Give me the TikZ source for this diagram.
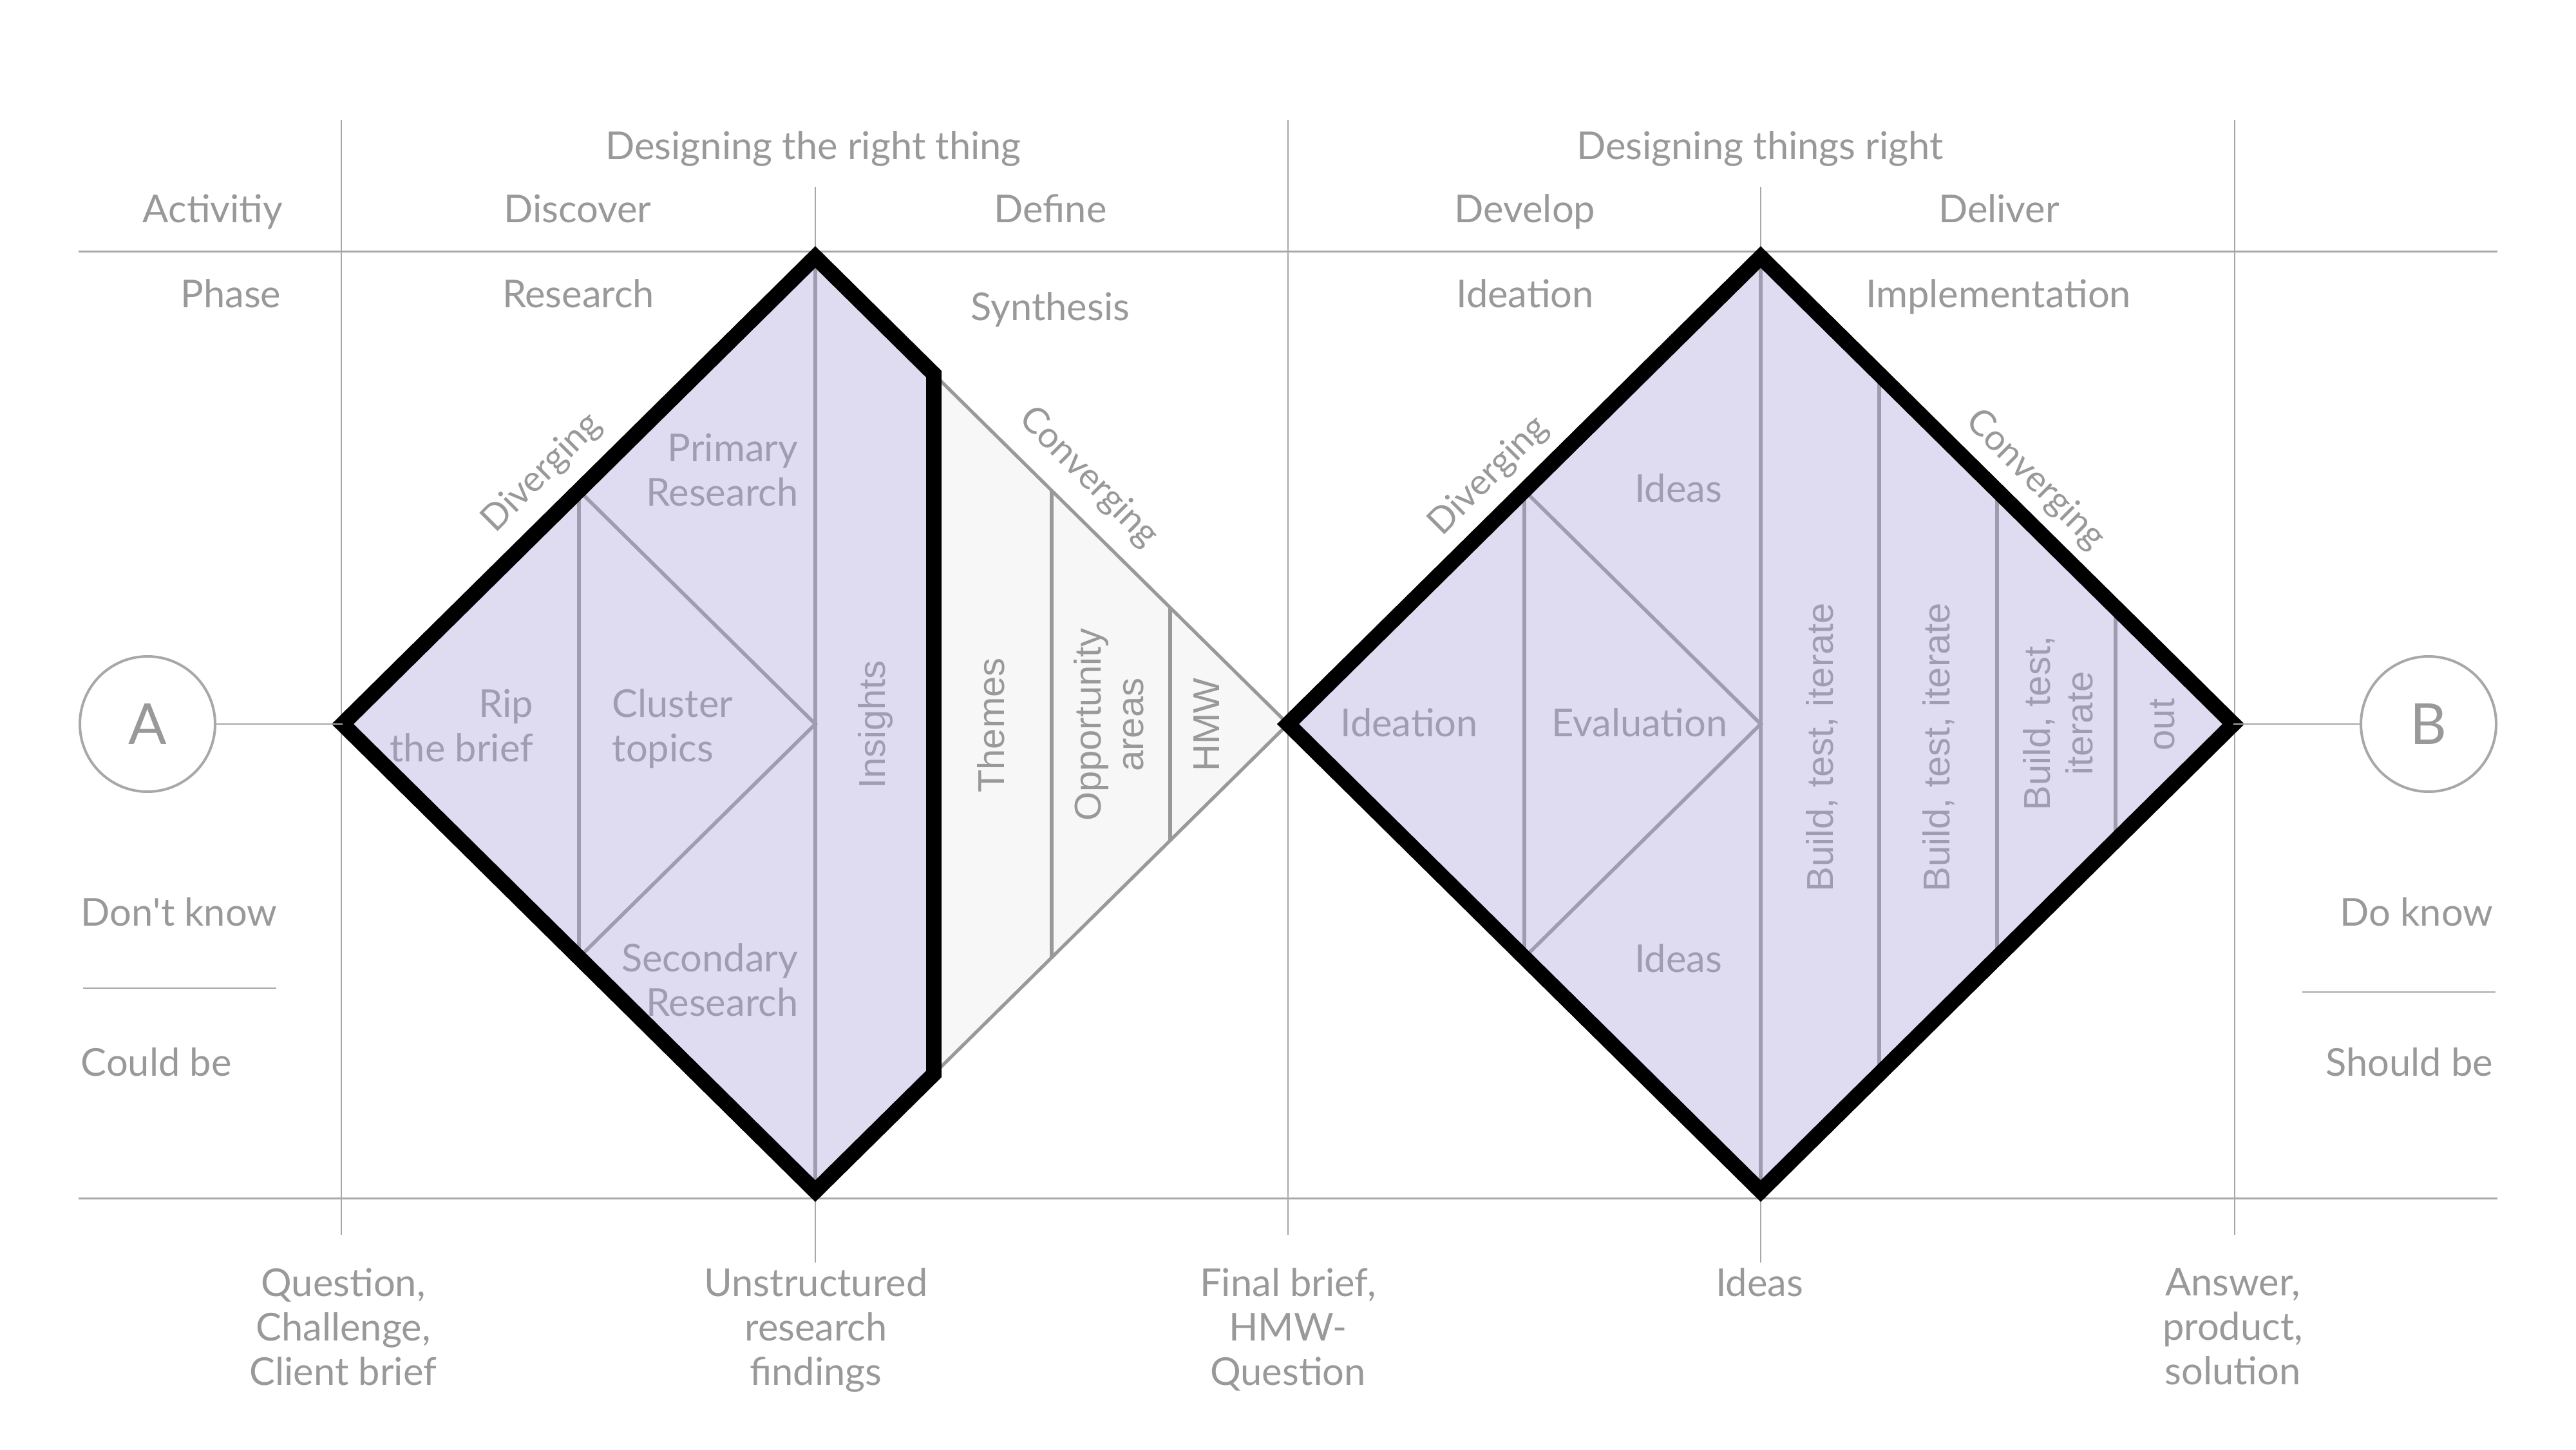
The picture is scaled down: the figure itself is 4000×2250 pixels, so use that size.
\documentclass[tikz,border=0pt]{standalone}
\usepackage{fontspec}
\setmainfont{Lato}
\newfontfamily\rotfont{Liberation Sans}
\definecolor{txt}{HTML}{999999}
\definecolor{ptxt}{HTML}{A19DB1}
\definecolor{purp}{HTML}{DFDCF1}
\definecolor{pline}{HTML}{A09CB0}
\definecolor{gfill}{HTML}{F7F7F7}
\definecolor{gline}{HTML}{999999}
\definecolor{gridc}{HTML}{A8A8A8}
\begin{document}
\begin{tikzpicture}[x=0.25pt,y=-0.25pt,
  gridline/.style={draw=gridc, line width=0.4pt},
  mainline/.style={draw=gridc, line width=0.75pt},
  innerline/.style={draw=pline, line width=1.4pt},
  grayline/.style={draw=gline, line width=1.3pt},
  outline/.style={draw=black, line width=6pt, line join=miter},
  lbl/.style={text=txt, font=\fontsize{14.9}{17.2}\selectfont, inner sep=0pt},
  plbl/.style={text=ptxt, font=\fontsize{14.9}{17.2}\selectfont, inner sep=0pt},
  dlbl/.style={text=txt, font=\fontsize{14}{16}\selectfont, inner sep=0pt},
  rlbl/.style={text=txt, font=\rotfont\fontsize{14.5}{16.5}\selectfont, inner sep=0pt, rotate=90, anchor=base, align=center},
  endcircle/.style={circle, draw=gridc, line width=1pt, minimum size=52.5pt, inner sep=0pt, text=txt, font=\fontsize{22}{24}\selectfont}
]
\useasboundingbox[fill=white] (0,0) rectangle (4000,2250);

% grid
\draw[gridline] (530,186) -- (530,1917);
\draw[gridline] (2000,186) -- (2000,1917);
\draw[gridline] (3470,186) -- (3470,1917);
\draw[gridline] (1266,290) -- (1266,1960);
\draw[gridline] (2734,290) -- (2734,1960);
\draw[mainline] (122,390) -- (3878,390);
\draw[mainline] (122,1860) -- (3878,1860);
\draw[gridline] (129,1534) -- (429,1534);
\draw[gridline] (3575,1540) -- (3875,1540);

% diamond 1 coordinates
\coordinate (d1L) at (532,1124);
\coordinate (d1T) at (1266,399);
\coordinate (d1B) at (1266,1849);
\coordinate (d1R) at (2000,1124);
\coordinate (d1cT) at (1450,580.7);
\coordinate (d1cB) at (1450,1667.3);

% grey converging part
\path[fill=gfill] (d1cT) -- (d1R) -- (d1cB) -- cycle;
\draw[grayline] (d1cT) -- (d1R) -- (d1cB);
\draw[grayline] (1633,761.5) -- (1633,1486.5);
\draw[grayline] (1817,943.3) -- (1817,1304.7);

% purple part
\path[fill=purp] (d1L) -- (d1T) -- (d1cT) -- (d1cB) -- (d1B) -- cycle;
\draw[innerline] (d1T) -- (d1B);
\draw[innerline] (899,761.5) -- (899,1486.5);
\draw[innerline] (899,761.5) -- (1266,1124) -- (899,1486.5);
\draw[outline] (d1L) -- (d1T) -- (d1cT) -- (d1cB) -- (d1B) -- cycle;

% diamond 2
\coordinate (d2L) at (2000,1124);
\coordinate (d2T) at (2734,399);
\coordinate (d2B) at (2734,1849);
\coordinate (d2R) at (3468,1124);
\path[fill=purp] (d2L) -- (d2T) -- (d2R) -- (d2B) -- cycle;
\draw[innerline] (d2T) -- (d2B);
\draw[innerline] (2367,761.5) -- (2367,1486.5);
\draw[innerline] (2367,761.5) -- (2734,1124) -- (2367,1486.5);
\draw[innerline] (2918,580.7) -- (2918,1667.3);
\draw[innerline] (3101,761.5) -- (3101,1486.5);
\draw[innerline] (3285,943.3) -- (3285,1304.7);
\draw[outline] (d2L) -- (d2T) -- (d2R) -- (d2B) -- cycle;

% circles
\node[endcircle] (A) at (229,1124) {A};
\node[endcircle] (B) at (3771,1124) {B};
\draw[gridline] (A) -- (d1L);
\draw[gridline] (d2R) -- (B);

% header texts
\node[lbl, anchor=base] (t1) at (1263,247) {Designing the right thing};
\node[lbl, anchor=base] (t2) at (2733,247) {Designing things right};
\node[lbl, anchor=base east] (act) at (440,345) {Activitiy};
\node[lbl, anchor=base] (disc) at (897,345) {Discover};
\node[lbl, anchor=base] (def) at (1631,345) {Define};
\node[lbl, anchor=base] (dev) at (2368,345) {Develop};
\node[lbl, anchor=base] (del) at (3104,345) {Deliver};
\node[lbl, anchor=base east] (pha) at (437,477) {Phase};
\node[lbl, anchor=base] (res) at (898,477) {Research};
\node[lbl, anchor=base] (syn) at (1631,497) {Synthesis};
\node[lbl, anchor=base] (ide) at (2368,477) {Ideation};
\node[lbl, anchor=base] (imp) at (3103,477) {Implementation};

% side texts
\node[lbl, anchor=base west] (dk) at (125,1437) {Don\textquotesingle t know};
\node[lbl, anchor=base west] (cb) at (125,1670) {Could be};
\node[lbl, anchor=base east] (dok) at (3872,1437) {Do know};
\node[lbl, anchor=base east] (sb) at (3872,1670) {Should be};

% bottom texts
\node[lbl, anchor=north, align=center] (o1) at (533,1968) {Question,\\Challenge,\\Client brief};
\node[lbl, anchor=north, align=center] (o2) at (1267,1968) {Unstructured\\research\\findings};
\node[lbl, anchor=north, align=center] (o3) at (2000,1968) {Final brief,\\HMW-\\Question};
\node[lbl, anchor=north, align=center] (o4) at (2732,1968) {Ideas};
\node[lbl, anchor=north, align=center] (o5) at (3467,1968) {Answer,\\product,\\solution};

% diverging / converging
\node[dlbl, rotate=45] (dv1) at (842,734) {Diverging};
\node[dlbl, rotate=-45] (cv1) at (1690,741) {Converging};
\node[dlbl, rotate=45] (dv2) at (2312,739) {Diverging};
\node[dlbl, rotate=-45] (cv2) at (3160,745) {Converging};

% diamond 1 texts
\node[plbl, anchor=north east, align=right] (pr) at (1240,672) {Primary\\Research};
\node[plbl, anchor=north east, align=right] (rip) at (829,1069) {Rip\\the brief};
\node[plbl, anchor=north west, align=left] (cl) at (950,1069) {Cluster\\topics};
\node[plbl, anchor=north east, align=right] (sr) at (1240,1464) {Secondary\\Research};
\node[rlbl, text=ptxt] (ins) at (1374,1125) {Insights};
\node[rlbl] (thm) at (1559,1126) {Themes};
\node[rlbl, anchor=center] (opp) at (1722,1125) {Opportunity\\areas};
\node[rlbl] (hmw) at (1893,1125) {HMW};

% diamond 2 texts
\node[plbl, anchor=base] (id1) at (2606,779) {Ideas};
\node[plbl, anchor=base] (idt) at (2188,1143) {Ideation};
\node[plbl, anchor=base] (eva) at (2546,1143) {Evaluation};
\node[plbl, anchor=base] (id2) at (2606,1509) {Ideas};
\node[rlbl, text=ptxt] (b1) at (2846,1160) {Build, test, iterate};
\node[rlbl, text=ptxt] (b2) at (3027,1160) {Build, test, iterate};
\node[rlbl, text=ptxt, anchor=center] (b3) at (3196,1123) {Build, test,\\iterate};
\node[rlbl, text=ptxt] (out) at (3376,1125) {out};
\end{tikzpicture}
\end{document}
